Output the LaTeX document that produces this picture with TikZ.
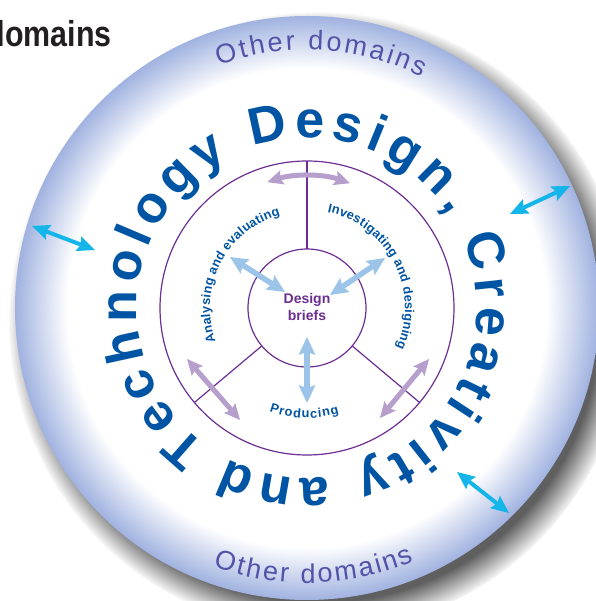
\documentclass[tikz,border=0pt]{standalone}
\usepackage{fontspec}
\setmainfont{Liberation Sans}
\usetikzlibrary{arrows.meta,decorations.text,fadings}
\definecolor{rimblue}{RGB}{160,178,224}
\definecolor{ringblue}{RGB}{0,84,164}
\definecolor{domblue}{RGB}{82,82,168}
\definecolor{linepurple}{RGB}{108,46,146}
\definecolor{arrowpurple}{RGB}{182,158,205}
\definecolor{arrowblue}{RGB}{156,196,232}
\definecolor{arrowcyan}{RGB}{20,182,234}
\definecolor{shadowgray}{RGB}{95,95,95}
\definecolor{headblack}{RGB}{35,31,32}
\pgfdeclareradialshading{rimshade}{\pgfpoint{0bp}{0bp}}{color(0bp)=(white); color(20.5bp)=(white); color(25bp)=(rimblue); color(50bp)=(rimblue)}
\newcommand{\ringfont}{\fontsize{52}{52}\selectfont\bfseries}
\newcommand{\domfont}{\fontsize{27}{27}\selectfont}
\newcommand{\stagefont}{\fontsize{12.8}{12.8}\selectfont\bfseries}

\begin{document}
\begin{tikzpicture}[x=1pt,y=1pt,
  purpleline/.style={draw=linepurple, line width=1.2pt},
  lbarrow/.style={draw=arrowblue, line width=5.5pt, arrows={Stealth[length=18pt,width=17pt,inset=3pt,line width=0pt]-Stealth[length=18pt,width=17pt,inset=3pt,line width=0pt]}},
  lparrow/.style={draw=arrowpurple, line width=5pt, arrows={Stealth[length=16pt,width=15pt,inset=3pt,line width=0pt]-Stealth[length=16pt,width=15pt,inset=3pt,line width=0pt]}},
  cyarrow/.style={draw=arrowcyan, line width=4pt, arrows={Stealth[length=18pt,width=16pt,inset=3pt,line width=0pt]-Stealth[length=18pt,width=16pt,inset=3pt,line width=0pt]}}]
\useasboundingbox (-307,308) rectangle (288,-293);
\fill[shadowgray, path fading=circle with fuzzy edge 10 percent] (12,-14) circle (310);
\shade[shading=rimshade] (0,0) circle (292);
\node[anchor=base east, font=\bfseries\fontsize{36}{36}\selectfont, text=headblack, inner sep=0pt] (head) at (-195,261) {\scalebox{0.845}[1]{domains}};
\path[decorate, decoration={text along path, text={|\domfont|Other domains}, text align={fit to path}, text color=domblue}] (110:258) arc[start angle=110, end angle=63.5, radius=258];
\path[decorate, decoration={text along path, text={|\domfont|Other domains}, text align={fit to path}, text color=domblue}] (250:275) arc[start angle=250, end angle=293, radius=275];
\path[decorate, decoration={text along path, text={|\ringfont|Technology Design, Creativity and}, text align={fit to path}, text color=ringblue}] (234:170) arc[start angle=234, end angle=-118, radius=170];
\draw[purpleline] (0,0) circle (147);
\draw[purpleline] (0,0) circle (59);
\draw[purpleline] (90:59) -- (90:147);
\draw[purpleline] (220:59) -- (220:147);
\draw[purpleline] (320:59) -- (320:147);
\path[decorate, decoration={text along path, text={|\stagefont|Analysing and evaluating}, text align={fit to path}, text color=ringblue}] (200:97) arc[start angle=200, end angle=106, radius=97];
\path[decorate, decoration={text along path, text={|\stagefont|Investigating and designing}, text align={fit to path}, text color=ringblue}] (78:98) arc[start angle=78, end angle=-24, radius=98];
\path[decorate, decoration={text along path, text={|\stagefont|Producing}, text align={fit to path}, text color=ringblue}] (250:110) arc[start angle=250, end angle=287, radius=110];
\node[align=center, font=\fontsize{14}{17}\selectfont\bfseries, text=linepurple] (briefs) at (0,1) {Design\\briefs};
\coordinate (ana-out) at (-77,51);
\coordinate (ana-in) at (-22,16);
\coordinate (inv-out) at (78,50);
\coordinate (inv-in) at (23,13);
\coordinate (pro-in) at (0,-29);
\coordinate (pro-out) at (0,-95);
\draw[lbarrow] (ana-out) -- (ana-in);
\draw[lbarrow] (inv-out) -- (inv-in);
\draw[lbarrow] (pro-in) -- (pro-out);
\coordinate (top-l) at (107.5:132);
\coordinate (ll-a) at (-120,-51);
\coordinate (ll-b) at (-67,-112);
\coordinate (lr-a) at (122,-51);
\coordinate (lr-b) at (73,-110);
\draw[lparrow] (top-l) arc[start angle=107.5, end angle=71, radius=132];
\draw[lparrow] (ll-a) -- (ll-b);
\draw[lparrow] (lr-a) -- (lr-b);
\coordinate (west-a) at (-275,82);
\coordinate (west-b) at (-212,58);
\coordinate (ne-a) at (203,94);
\coordinate (ne-b) at (263,122);
\coordinate (se-a) at (150,-164);
\coordinate (se-b) at (202,-205);
\draw[cyarrow] (west-a) -- (west-b);
\draw[cyarrow] (ne-a) -- (ne-b);
\draw[cyarrow] (se-a) -- (se-b);
\end{tikzpicture}
\end{document}
